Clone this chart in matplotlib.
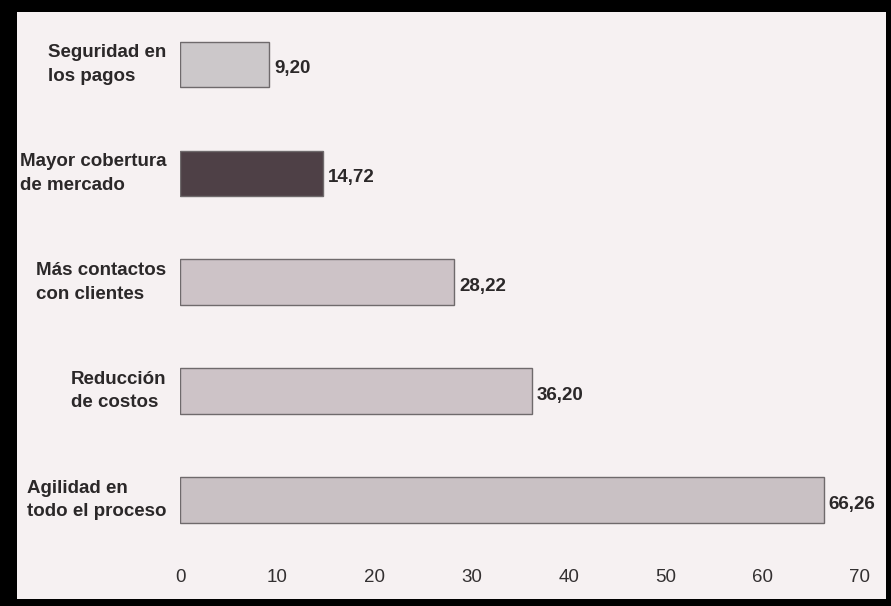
import matplotlib
matplotlib.use("Agg")
import matplotlib.pyplot as plt
from matplotlib.patches import Rectangle

categories = [
    "Seguridad en\nlos pagos",
    "Mayor cobertura\nde mercado",
    "Más contactos\ncon clientes",
    "Reducción\nde costos",
    "Agilidad en\ntodo el proceso",
]
values = [9.20, 14.72, 28.22, 36.20, 66.26]
value_labels = ["9,20", "14,72", "28,22", "36,20", "66,26"]
bar_colors = ["#ccc8ca", "#4e4046", "#cdc3c7", "#cdc3c7", "#c9c1c4"]
xticks = [0, 10, 20, 30, 40, 50, 60, 70]

W, H = 891, 606
fig = plt.figure(figsize=(W / 100, H / 100), dpi=100, facecolor="black")

# page area inside the dark frame
page = Rectangle((17 / W, 1 - 599 / H), (886 - 17) / W, (599 - 12) / H,
                 transform=fig.transFigure, facecolor="#f6f1f2",
                 edgecolor="none", zorder=-10)
fig.patches.append(page)

left, right = 180 / W, 860 / W
top, bottom = 1 - 20 / H, 1 - 555 / H
ax = fig.add_axes([left, bottom, right - left, top - bottom])
ax.set_zorder(5)
ax.set_facecolor("none")

ypos = list(range(len(categories)))
bars = ax.barh(ypos, values, height=0.42, color=bar_colors,
               edgecolor="#6f6a6c", linewidth=1.0, zorder=2)

for b, lab in zip(bars, value_labels):
    ax.text(b.get_width() + 0.5, b.get_y() + b.get_height() / 2 + 0.04, lab,
            ha="left", va="center", fontsize=13.5, fontweight="bold",
            color="#2b2829", family="Liberation Sans", clip_on=False)

for y, cat in zip(ypos, categories):
    ax.text(-1.4, y, cat, ha="right", va="center", multialignment="left",
            fontsize=13.5, fontweight="bold", color="#2b2829",
            family="Liberation Sans", linespacing=1.5,
            transform=ax.transData, clip_on=False)

ax.set_xlim(0, 70)
ax.set_ylim(4.505, -0.41)
ax.set_yticks([])
ax.set_xticks(xticks)
ax.set_xticklabels([str(t) for t in xticks], fontsize=13.5,
                   color="#333031", family="Liberation Sans")
ax.tick_params(axis="x", length=0, pad=10)
for s in ax.spines.values():
    s.set_visible(False)

fig.savefig("out.png", dpi=100, facecolor="black")
